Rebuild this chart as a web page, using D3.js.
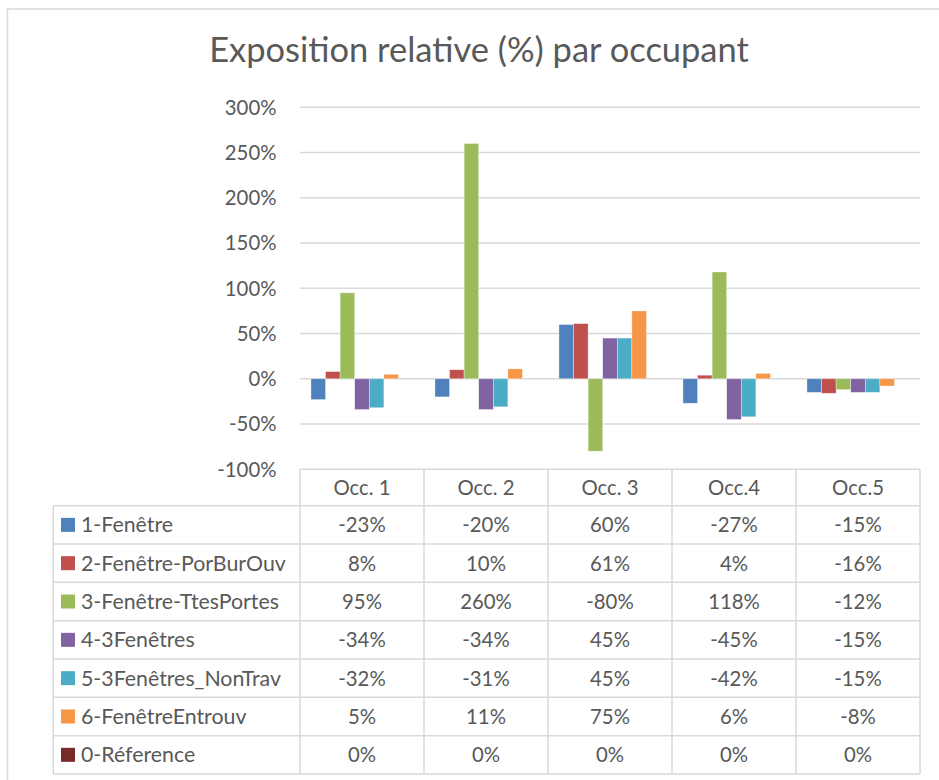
<!DOCTYPE html>
<html>
<head>
<meta charset="utf-8">
<script src="https://cdn.jsdelivr.net/npm/d3@7"></script>
<style>
  html, body { margin: 0; padding: 0; background: #fff; }
  svg { display: block; }
</style>
</head>
<body>
<svg id="chart" width="939" height="780"></svg>
<script>
// ---------------- DATA ----------------
const title = "Exposition relative (%) par occupant";
const categories = ["Occ. 1", "Occ. 2", "Occ. 3", "Occ.4", "Occ.5"];
const seriesNames = [
  "1-Fenêtre",
  "2-Fenêtre-PorBurOuv",
  "3-Fenêtre-TtesPortes",
  "4-3Fenêtres",
  "5-3Fenêtres_NonTrav",
  "6-FenêtreEntrouv",
  "0-Réference"
];
const s1 = [-0.23, -0.20, 0.60, -0.27, -0.15];
const s2 = [0.08, 0.10, 0.61, 0.04, -0.16];
const s3 = [0.95, 2.60, -0.80, 1.18, -0.12];
const s4 = [-0.34, -0.34, 0.45, -0.45, -0.15];
const s5 = [-0.32, -0.31, 0.45, -0.42, -0.15];
const s6 = [0.05, 0.11, 0.75, 0.06, -0.08];
const s0 = [0, 0, 0, 0, 0];
const seriesValues = [s1, s2, s3, s4, s5, s6, s0];
const seriesColors = ["#4f81bd", "#c0504d", "#9bbb59", "#8064a2", "#4bacc6", "#f79646", "#772c2a"];
const tickValues = [-1, -0.5, 0, 0.5, 1, 1.5, 2, 2.5, 3];

// ---------------- LAYOUT ----------------
const svg = d3.select("#chart");
const FONT = "Lato, 'Noto Sans', 'DejaVu Sans', sans-serif";
const TEXT = "#595959";
const GRID = "#d9d9d9";

const plotLeft = 300, plotRight = 920, plotTop = 107.3, plotBottom = 469.3;
const labelLeft = 53.3;
const headerBottom = 505.7;
const rowH = 38.33;

const fmt = d3.formatLocale({decimal: ".", thousands: ",", grouping: [3], currency: ["", ""], minus: "-"}).format(".0%");

// font fitting helper
function fitSize(str, base, target, weight) {
  const t = svg.append("text").attr("font-family", FONT).attr("font-size", base)
    .attr("font-weight", weight || "normal").text(str);
  const w = t.node().getComputedTextLength();
  t.remove();
  return base * target / w;
}
const axisSize = fitSize("300%", 23, 51.7);
const labelSize = (fitSize("2-Fenêtre-PorBurOuv", 23, 209) + axisSize) / 2 + 0.3;
const titleSize = fitSize(title, 32, 540);

// outer frame
svg.append("rect").attr("x", 7.5).attr("y", 9).attr("width", 1000).attr("height", 1000)
  .attr("fill", "none").attr("stroke", GRID).attr("stroke-width", 1.5);

// title
svg.append("text").attr("x", (209 + 749) / 2).attr("y", 62.3)
  .attr("text-anchor", "middle").attr("font-family", FONT).attr("font-size", titleSize)
  .attr("fill", TEXT).text(title);

// scales
const y = d3.scaleLinear().domain([-1, 3]).range([plotBottom, plotTop]);
const x0 = d3.scaleBand().domain(categories).range([plotLeft, plotRight]).padding(0);
const x1 = d3.scaleBand().domain(d3.range(seriesNames.length)).range([0, x0.bandwidth()])
  .paddingInner(0).paddingOuter(0.75);

// gridlines
svg.append("g").selectAll("line").data(tickValues).join("line")
  .attr("x1", plotLeft).attr("x2", plotRight)
  .attr("y1", d => y(d)).attr("y2", d => y(d))
  .attr("stroke", GRID).attr("stroke-width", 1.5);

// y axis labels
const yAxis = d3.axisLeft(y).tickValues(tickValues).tickFormat(fmt).tickSize(0).tickPadding(0);
const ya = svg.append("g").attr("transform", `translate(276.5,0)`).call(yAxis);
ya.select(".domain").remove();
ya.selectAll("text").attr("font-family", FONT).attr("font-size", axisSize).attr("fill", TEXT)
  .attr("dy", "0.34em");

// bars
const gBars = svg.append("g");
seriesValues.forEach((vals, si) => {
  gBars.append("g").selectAll("rect").data(vals).join("rect")
    .attr("x", (d, i) => x0(categories[i]) + x1(si))
    .attr("width", x1.bandwidth())
    .attr("y", d => Math.min(y(d), y(0)))
    .attr("height", d => Math.abs(y(d) - y(0)))
    .attr("fill", seriesColors[si])
    .attr("stroke", "#ffffff").attr("stroke-width", 0.6).attr("stroke-opacity", 0.6);
});

// ---------------- DATA TABLE ----------------
const gT = svg.append("g");
const nRows = seriesNames.length;
const tableBottom = headerBottom + nRows * rowH;
const lineAttrs = sel => sel.attr("stroke", GRID).attr("stroke-width", 1.5).attr("fill", "none");

const colEdges = categories.map(c => x0(c)).concat([plotRight]);
gT.selectAll("line.hv").data(colEdges).join("line").attr("class", "hv")
  .attr("x1", d => d).attr("x2", d => d).attr("y1", plotBottom).attr("y2", tableBottom).call(lineAttrs);
gT.append("line").attr("x1", labelLeft).attr("x2", labelLeft).attr("y1", headerBottom).attr("y2", tableBottom).call(lineAttrs);
const rowEdges = d3.range(nRows + 1).map(i => headerBottom + i * rowH);
gT.selectAll("line.hr").data(rowEdges).join("line").attr("class", "hr")
  .attr("x1", labelLeft).attr("x2", plotRight).attr("y1", d => d).attr("y2", d => d).call(lineAttrs);

// header text
gT.selectAll("text.hd").data(categories).join("text").attr("class", "hd")
  .attr("x", d => x0(d) + x0.bandwidth() / 2).attr("y", 495)
  .attr("text-anchor", "middle").attr("font-family", FONT).attr("font-size", axisSize)
  .attr("fill", TEXT).text(d => d);

// rows
seriesNames.forEach((name, si) => {
  const top = headerBottom + si * rowH;
  const base = top + rowH / 2 + 7.5;
  gT.append("rect").attr("x", 61).attr("y", top + rowH / 2 - 7).attr("width", 14).attr("height", 14)
    .attr("fill", seriesColors[si]);
  gT.append("text").attr("x", 81).attr("y", base).attr("font-family", FONT).attr("font-size", labelSize)
    .attr("fill", TEXT).text(name);
  gT.append("g").selectAll("text").data(seriesValues[si]).join("text")
    .attr("x", (d, i) => x0(categories[i]) + x0.bandwidth() / 2).attr("y", base)
    .attr("text-anchor", "middle").attr("font-family", FONT).attr("font-size", axisSize)
    .attr("fill", TEXT).text(d => fmt(d));
});
</script>
</body>
</html>
